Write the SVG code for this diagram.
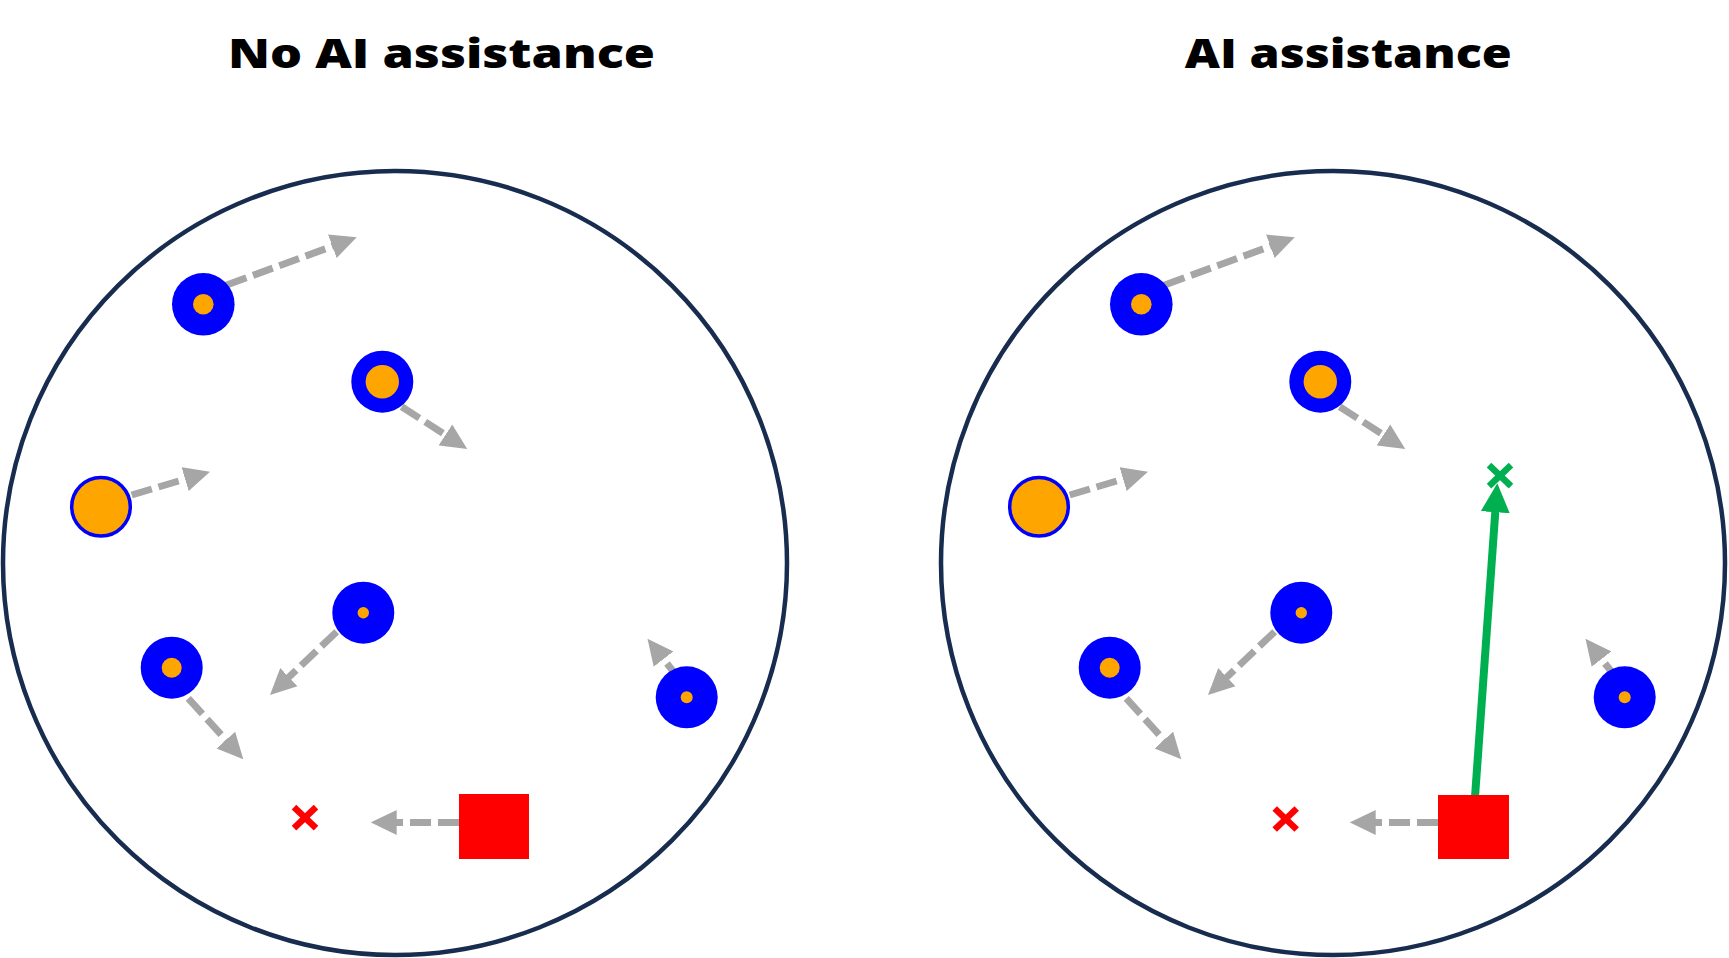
<svg xmlns="http://www.w3.org/2000/svg" width="1729" height="958" viewBox="0 0 1729 958">
  <style>
    .title { font-family: "Open Sans", "Liberation Sans", sans-serif; font-weight: 800; font-size: 40px; fill: #000; }
    .frame { fill: none; stroke: #172c4e; stroke-width: 4.5; }
    .mv { fill: none; stroke: #a6a6a6; stroke-width: 7; stroke-dasharray: 21 7; marker-end: url(#ag); }
    .ai { fill: none; stroke: #00b050; stroke-width: 8; marker-end: url(#agr); }
    .blue { fill: #0000ff; }
    .core { fill: #ffa500; }
    .hollow { fill: #ffa500; stroke: #0000ff; stroke-width: 3.5; }
    .agent { fill: #ff0000; }
    .xr { stroke: #ff0000; stroke-width: 6.5; }
    .xg { stroke: #00b050; stroke-width: 6.5; }
  </style>
  <defs>
    <marker id="ag" markerUnits="userSpaceOnUse" viewBox="0 -13 26 26" markerWidth="26" markerHeight="26" refX="2" refY="0" orient="auto">
      <path d="M0,-12.5 L26,0 L0,12.5 z" fill="#a6a6a6"/>
    </marker>
    <marker id="agr" markerUnits="userSpaceOnUse" viewBox="0 -15 29 30" markerWidth="29" markerHeight="30" refX="2" refY="0" orient="auto">
      <path d="M0,-14.5 L29,0 L0,14.5 z" fill="#00b050"/>
    </marker>
  </defs>
  <rect width="1729" height="958" fill="#ffffff"/>

  <g id="titles">
    <text class="title" x="441.5" y="68" text-anchor="middle" textLength="427" lengthAdjust="spacingAndGlyphs">No AI assistance</text>
    <text class="title" x="1348.3" y="68" text-anchor="middle" textLength="327" lengthAdjust="spacingAndGlyphs">AI assistance</text>
  </g>

  <g id="frames">
    <circle class="frame" cx="395" cy="563" r="392"/>
    <circle class="frame" cx="1333" cy="563" r="392"/>
  </g>

  <g id="connectors">
    <!-- left panel -->
    <line class="mv" x1="226.7" y1="285" x2="334.2" y2="245.6"/>
    <line class="mv" x1="401.7" y1="406.7" x2="447.1" y2="436.0"/>
    <line class="mv" x1="131.7" y1="495" x2="187.0" y2="478.5"/>
    <line class="mv" x1="336.7" y1="631.7" x2="287.4" y2="678.5"/>
    <line class="mv" x1="188.3" y1="698.3" x2="227.2" y2="741.5"/>
    <line class="mv" x1="680" y1="680" x2="662.3" y2="657.5"/>
    <line class="mv" x1="459" y1="822.5" x2="394.7" y2="822.4"/>
    <!-- right panel -->
    <line class="mv" x1="1164.7" y1="285" x2="1272.2" y2="245.6"/>
    <line class="mv" x1="1339.7" y1="406.7" x2="1385.1" y2="436.0"/>
    <line class="mv" x1="1069.7" y1="495" x2="1125.0" y2="478.5"/>
    <line class="mv" x1="1274.7" y1="631.7" x2="1225.4" y2="678.5"/>
    <line class="mv" x1="1126.3" y1="698.3" x2="1165.2" y2="741.5"/>
    <line class="mv" x1="1618" y1="680" x2="1600.3" y2="657.5"/>
    <line class="mv" x1="1438" y1="822.5" x2="1373.7" y2="822.4"/>
    <line class="ai" x1="1475" y1="797" x2="1495.4" y2="510.2"/>
  </g>

  <!-- left panel nodes -->
  <g id="L-node-a"><circle class="blue" cx="203.3" cy="304.3" r="31.3"/><circle class="core" cx="203.3" cy="304.3" r="10.3"/></g>
  <g id="L-node-b"><circle class="blue" cx="382.3" cy="381.7" r="31"/><circle class="core" cx="382.3" cy="381.7" r="16.7"/></g>
  <g id="L-node-c"><circle class="hollow" cx="101" cy="506.7" r="29.3"/></g>
  <g id="L-node-d"><circle class="blue" cx="363.3" cy="612.7" r="31"/><circle class="core" cx="363.3" cy="612.7" r="5.7"/></g>
  <g id="L-node-e"><circle class="blue" cx="171.7" cy="667.7" r="31"/><circle class="core" cx="171.7" cy="667.7" r="10"/></g>
  <g id="L-node-f"><circle class="blue" cx="686.7" cy="697.3" r="31"/><circle class="core" cx="686.7" cy="697.3" r="6"/></g>
  <g id="L-target"><line class="xr" x1="294" y1="807.2" x2="316" y2="828.2"/><line class="xr" x1="316" y1="807.2" x2="294" y2="828.2"/></g>
  <g id="L-agent"><rect class="agent" x="459" y="794" width="70" height="65"/></g>

  <!-- right panel nodes -->
  <g id="R-node-a"><circle class="blue" cx="1141.3" cy="304.3" r="31.3"/><circle class="core" cx="1141.3" cy="304.3" r="10.3"/></g>
  <g id="R-node-b"><circle class="blue" cx="1320.3" cy="381.7" r="31"/><circle class="core" cx="1320.3" cy="381.7" r="16.7"/></g>
  <g id="R-node-c"><circle class="hollow" cx="1039" cy="506.7" r="29.3"/></g>
  <g id="R-node-d"><circle class="blue" cx="1301.3" cy="612.7" r="31"/><circle class="core" cx="1301.3" cy="612.7" r="5.7"/></g>
  <g id="R-node-e"><circle class="blue" cx="1109.7" cy="667.7" r="31"/><circle class="core" cx="1109.7" cy="667.7" r="10"/></g>
  <g id="R-node-f"><circle class="blue" cx="1624.7" cy="697.3" r="31"/><circle class="core" cx="1624.7" cy="697.3" r="6"/></g>
  <g id="R-target"><line class="xr" x1="1274.7" y1="808.5" x2="1296.7" y2="829.5"/><line class="xr" x1="1296.7" y1="808.5" x2="1274.7" y2="829.5"/></g>
  <g id="R-ai-target"><line class="xg" x1="1489" y1="465.2" x2="1511" y2="486.2"/><line class="xg" x1="1511" y1="465.2" x2="1489" y2="486.2"/></g>
  <g id="R-agent"><rect class="agent" x="1438" y="795" width="71" height="64"/></g>
</svg>
